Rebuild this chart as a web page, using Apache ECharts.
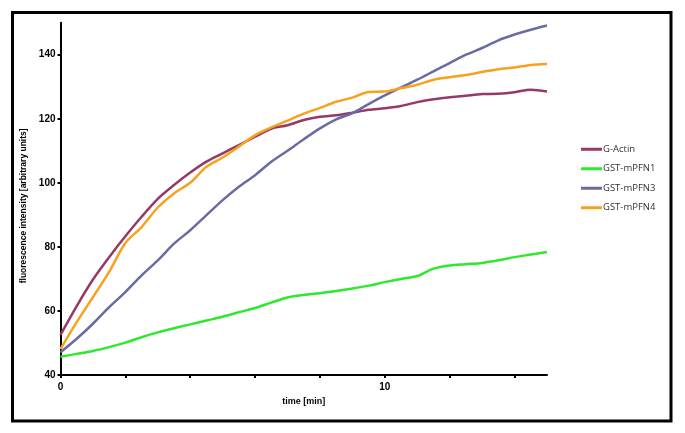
<!DOCTYPE html>
<html>
<head>
<meta charset="utf-8">
<script src="https://cdn.jsdelivr.net/npm/echarts@6/dist/echarts.min.js"></script>
<style>
  html, body { margin: 0; padding: 0; background: #fff; }
  #chart { width: 685px; height: 433px; }
</style>
</head>
<body>
<div id="chart"></div>
<script>
// time in minutes, read every 0.5 min
const time = [0, 0.5, 1, 1.5, 2, 2.5, 3, 3.5, 4, 4.5, 5, 5.5, 6, 6.5, 7, 7.5, 8, 8.5, 9, 9.5, 10, 10.5, 11, 11.5, 12, 12.5, 13, 13.5, 14, 14.5, 15]

const gActin = [52.5, 61.5, 69.8, 76.8, 83.3, 89.4, 95.0, 99.3, 103.2, 106.6, 109.2, 111.8, 114.4, 116.9, 118.0, 119.6, 120.6, 121.1, 121.9, 122.8, 123.3, 124.0, 125.2, 126.1, 126.7, 127.2, 127.7, 127.8, 128.3, 129.1, 128.5]
const mPFN1 = [45.7, 46.6, 47.5, 48.7, 50.1, 51.8, 53.3, 54.6, 55.8, 57.0, 58.2, 59.6, 60.9, 62.6, 64.2, 65.0, 65.5, 66.2, 67.0, 67.9, 69.0, 70.0, 70.9, 73.2, 74.2, 74.6, 75.0, 75.8, 76.8, 77.6, 78.4]
const mPFN3 = [47.1, 51.3, 56.0, 61.2, 65.9, 71.1, 75.8, 81.0, 85.2, 89.9, 94.6, 98.8, 102.4, 106.6, 110.0, 113.6, 117.0, 119.8, 121.8, 124.6, 127.3, 129.8, 132.2, 134.8, 137.4, 140.0, 142.1, 144.5, 146.3, 147.8, 149.1]
const mPFN4 = [48.1, 56.5, 64.3, 72.2, 81.2, 86.2, 92.3, 96.7, 100.0, 105.0, 107.9, 111.3, 114.9, 117.3, 119.4, 121.6, 123.4, 125.3, 126.6, 128.4, 128.5, 129.6, 130.6, 132.2, 133.0, 133.7, 134.6, 135.5, 136.0, 136.8, 137.1]

const seriesNames = ['G-Actin', 'GST-mPFN1', 'GST-mPFN3', 'GST-mPFN4']
const seriesData = [gActin, mPFN1, mPFN3, mPFN4]
const colors = ['#953a68', '#2ee82e', '#6b6ba3', '#f5a31f']

const chart = echarts.init(document.getElementById('chart'))

const axisFont = { fontFamily: 'Liberation Sans', fontSize: 10, fontWeight: 'bold', color: '#000' }

chart.setOption({
  animation: false,
  grid: { left: 60.5, right: 138, top: 22.7, bottom: 58 },
  legend: {
    orient: 'vertical',
    left: 576,
    top: 138,
    itemWidth: 21,
    itemHeight: 3,
    itemGap: 7,
    icon: 'rect',
    data: seriesNames,
    textStyle: { fontFamily: 'Open Sans', fontSize: 9.5, lineHeight: 12.5, color: '#333', padding: [0, 0, 0, -4] }
  },
  xAxis: {
    type: 'value',
    min: 0,
    max: 15,
    interval: 2,
    name: 'time [min]',
    nameLocation: 'middle',
    nameGap: 17,
    nameTextStyle: { fontFamily: 'Liberation Sans', fontSize: 9, fontWeight: 'bold', color: '#000' },
    axisLine: { lineStyle: { color: '#000', width: 2 } },
    axisTick: { show: true, length: 3, lineStyle: { color: '#000', width: 2 } },
    axisLabel: Object.assign({ margin: 7, showMaxLabel: false, formatter: v => (v % 10 === 0 ? v : '') }, axisFont),
    splitLine: { show: false }
  },
  yAxis: {
    type: 'value',
    min: 40,
    max: 150,
    interval: 20,
    name: 'fluorescence intensity [arbitrary units]',
    nameLocation: 'middle',
    nameGap: 28,
    nameTextStyle: { fontFamily: 'Liberation Sans', fontSize: 8.5, fontWeight: 'bold', color: '#000', padding: [0, 0, 0, -14] },
    axisLine: { show: true, lineStyle: { color: '#000', width: 2 } },
    axisTick: { show: true, length: 3, lineStyle: { color: '#000', width: 2 } },
    axisLabel: Object.assign({ margin: 5, showMaxLabel: false }, axisFont),
    splitLine: { show: false }
  },
  series: seriesNames.map((name, i) => ({
    name,
    type: 'line',
    data: time.map((t, j) => [t, seriesData[i][j]]),
    showSymbol: false,
    smooth: 0.3,
    lineStyle: { color: colors[i], width: 2.5 },
    itemStyle: { color: colors[i] }
  })),
  graphic: [{
    type: 'rect',
    shape: { x: 12.5, y: 12.5, width: 658.5, height: 408.5 },
    style: { fill: 'none', stroke: '#000', lineWidth: 3 },
    silent: true
  }]
})
</script>
</body>
</html>
